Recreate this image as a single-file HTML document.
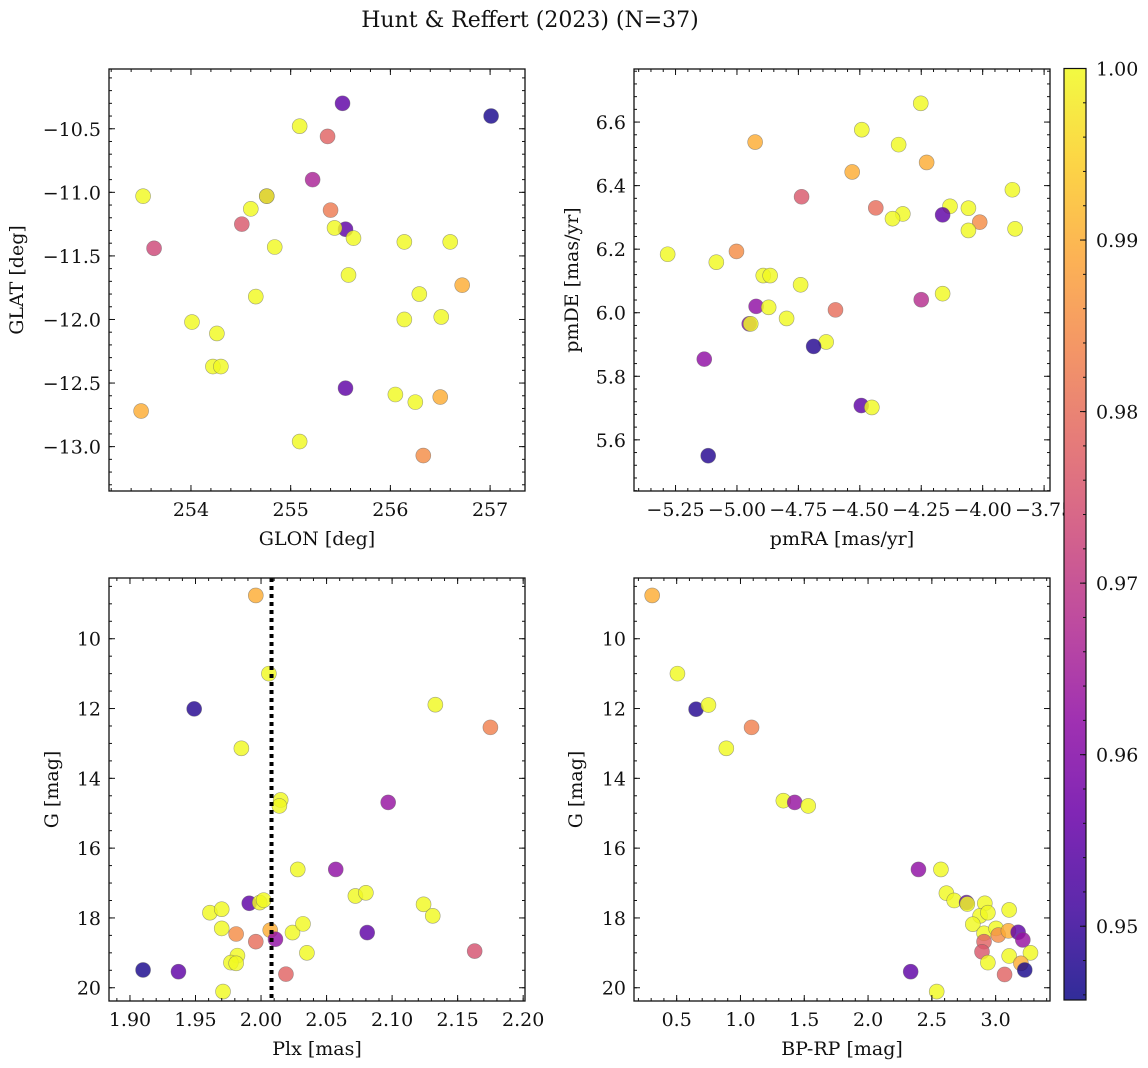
<!DOCTYPE html>
<html><head><meta charset="utf-8">
<style>
html,body{margin:0;padding:0;background:#fff;}
svg{display:block;font-family:"DejaVu Serif","Liberation Serif",serif;}
</style></head>
<body>
<svg id="fig" width="1148" height="1068" viewBox="0 0 1148 1068" xmlns="http://www.w3.org/2000/svg">
<text x="530" y="27" font-size="22" text-anchor="middle" fill="#111">Hunt &amp; Reffert (2023) (N=37)</text>
</svg>
<script>
// ---- data: panel 1 (GLON vs GLAT)
const glon = [255.52,257.01,255.09,255.37,255.22,253.52,254.76,254.76,254.60,255.40,254.51,255.55,255.44,255.63,253.63,254.84,256.14,256.60,255.58,256.72,256.29,254.65,254.01,256.14,256.51,254.26,254.22,254.30,255.55,256.05,256.25,256.50,253.50,255.09,256.33];
const glat = [-10.30,-10.40,-10.48,-10.56,-10.90,-11.03,-11.03,-11.03,-11.13,-11.14,-11.25,-11.29,-11.28,-11.36,-11.44,-11.43,-11.39,-11.39,-11.65,-11.73,-11.80,-11.82,-12.02,-12.00,-11.98,-12.11,-12.37,-12.37,-12.54,-12.59,-12.65,-12.61,-12.72,-12.96,-13.07];
const prob1 = [0.955,0.947,1.0,0.978,0.966,1.0,0.96,1.0,1.0,0.982,0.976,0.955,1.0,1.0,0.973,1.0,1.0,1.0,1.0,0.99,1.0,1.0,1.0,1.0,1.0,1.0,1.0,1.0,0.955,1.0,1.0,0.99,0.99,1.0,0.985];
// ---- panel 2 (pmRA vs pmDE)
const pmra = [-4.252,-4.492,-4.926,-4.342,-4.228,-4.531,-3.879,-4.737,-4.435,-4.133,-4.058,-4.325,-4.367,-4.163,-4.012,-4.058,-3.868,-5.282,-5.002,-5.084,-4.893,-4.865,-4.741,-4.163,-4.250,-4.922,-4.871,-4.599,-4.798,-4.950,-4.944,-4.637,-4.688,-5.133,-4.494,-4.451,-5.117];
const pmde = [6.659,6.576,6.537,6.529,6.473,6.443,6.387,6.365,6.330,6.335,6.329,6.311,6.296,6.308,6.285,6.259,6.264,6.184,6.193,6.159,6.117,6.117,6.088,6.060,6.041,6.020,6.017,6.009,5.982,5.965,5.965,5.908,5.894,5.854,5.708,5.702,5.550];
const prob2 = [1.0,1.0,0.99,1.0,0.99,0.99,1.0,0.976,0.98,1.0,1.0,1.0,1.0,0.955,0.985,1.0,1.0,1.0,0.985,1.0,1.0,1.0,1.0,1.0,0.968,0.962,1.0,0.98,1.0,0.96,1.0,1.0,0.948,0.962,0.955,1.0,0.948];
// ---- panel 3 (Plx vs G)
const plx = [1.996,2.006,1.949,2.133,2.175,1.985,2.015,2.014,2.097,2.028,2.057,2.072,2.080,2.124,2.131,1.991,1.999,2.002,1.961,1.970,1.970,1.981,2.007,1.996,2.011,2.024,2.032,2.081,2.035,1.982,1.977,1.981,2.163,1.910,1.937,2.019,1.971];
const gmag3 = [8.76,11.00,12.01,11.89,12.54,13.14,14.62,14.79,14.69,16.61,16.61,17.37,17.28,17.61,17.94,17.58,17.56,17.49,17.85,17.75,18.30,18.46,18.35,18.68,18.61,18.42,18.17,18.42,19.00,19.08,19.28,19.30,18.95,19.49,19.54,19.61,20.11];
const prob3 = [0.99,1.0,0.948,1.0,0.983,1.0,1.0,1.0,0.963,1.0,0.962,1.0,1.0,1.0,1.0,0.955,1.0,1.0,1.0,1.0,1.0,0.985,0.99,0.98,0.962,1.0,1.0,0.955,1.0,1.0,1.0,1.0,0.975,0.947,0.955,0.978,1.0];
const plxLine = [2.008];
// ---- panel 4 (BP-RP vs G)
const bprp = [0.308,0.506,0.652,0.749,1.087,0.889,1.336,1.425,1.531,2.395,2.571,2.614,2.675,2.772,2.778,2.915,3.106,2.878,2.939,2.821,2.909,3.003,3.021,3.100,3.176,3.213,2.909,2.893,3.106,3.273,2.939,3.198,3.228,2.334,3.070,2.538];
const gmag4 = [8.76,11.00,12.02,11.90,12.54,13.14,14.64,14.69,14.79,16.61,16.61,17.29,17.50,17.56,17.60,17.58,17.77,17.94,17.85,18.18,18.44,18.30,18.49,18.37,18.41,18.63,18.68,18.97,19.09,19.00,19.28,19.30,19.49,19.54,19.62,20.11];
const prob4 = [0.99,1.0,0.948,1.0,0.983,1.0,1.0,0.963,1.0,0.962,1.0,1.0,1.0,0.955,1.0,1.0,1.0,1.0,1.0,1.0,1.0,1.0,0.985,0.99,0.955,0.963,0.978,0.976,1.0,1.0,1.0,0.99,0.947,0.955,0.978,1.0];
// ---- colorbar ticks
const cbTicks = [0.95,0.96,0.97,0.98,0.99,1.00];
const cbMin = 0.9457, cbMax = 1.0;

const FS = 19;
const NS = "http://www.w3.org/2000/svg";
const svg = document.getElementById('fig');
function mk(tag, attrs, parent){
  const e = document.createElementNS(NS, tag);
  for (const k in attrs) e.setAttribute(k, attrs[k]);
  (parent||svg).appendChild(e);
  return e;
}
const plasma = [[13,8,135],[65,4,157],[106,0,168],[143,13,164],[177,42,144],[204,71,120],[225,100,98],[242,132,75],[252,166,54],[252,206,37],[240,249,33]];
function cmap(v){
  let t = (v - cbMin)/(cbMax - cbMin); t = Math.max(0, Math.min(1, t));
  const p = t*10, i = Math.min(9, Math.floor(p)), f = p - i;
  const a = plasma[i], b = plasma[i+1];
  return `rgb(${Math.round(a[0]+(b[0]-a[0])*f)},${Math.round(a[1]+(b[1]-a[1])*f)},${Math.round(a[2]+(b[2]-a[2])*f)})`;
}
function fmt(v, d){ const s = v.toFixed(d); return s.replace('-', '\u2212'); }

function panel(cfg){
  const g = mk('g', {});
  
  
  const {L,R,T,B} = cfg;
  const sx = v => L + (v - cfg.x0)/(cfg.x1 - cfg.x0)*(R-L);
  const sy = v => T + (v - cfg.y0)/(cfg.y1 - cfg.y0)*(B-T);
  const pts = mk('g', {}, g);
  
  
  for (let i = 0; i < cfg.xs.length; i++){
    const c = mk('circle', {cx: sx(cfg.xs[i]), cy: sy(cfg.ys[i]), r: 7.5, fill: cmap(cfg.cs[i]), 'fill-opacity': 0.82, stroke: '#666', 'stroke-width': 0.6, 'stroke-opacity': 0.6}, pts);
    
    
  }
  if (cfg.vline){
    const ln = mk('line', {x1: sx(cfg.vline[0]), x2: sx(cfg.vline[0]), y1: T, y2: B, stroke: '#000', 'stroke-width': 4, 'stroke-dasharray': '4 4'}, g);
    
    
  }
  const fr = mk('rect', {x: L, y: T, width: R-L, height: B-T, fill: 'none', stroke: '#111', 'stroke-width': 1.3}, g);
  
  
  const tk = mk('g', {stroke: '#111', 'stroke-width': 1}, g);
  
  
  const eps = 1e-9;
  const xmin = Math.min(cfg.x0,cfg.x1), xmax = Math.max(cfg.x0,cfg.x1);
  const ymin = Math.min(cfg.y0,cfg.y1), ymax = Math.max(cfg.y0,cfg.y1);
  for (let v = Math.ceil(xmin/cfg.xm - eps)*cfg.xm; v <= xmax+eps; v += cfg.xm){
    const x = sx(v);
    mk('line', {x1:x, x2:x, y1:B, y2:B-3}, tk); mk('line', {x1:x, x2:x, y1:T, y2:T+3}, tk);
  }
  for (let v = Math.ceil(ymin/cfg.ym - eps)*cfg.ym; v <= ymax+eps; v += cfg.ym){
    const y = sy(v);
    mk('line', {x1:L, x2:L+3, y1:y, y2:y}, tk); mk('line', {x1:R, x2:R-3, y1:y, y2:y}, tk);
  }
  const lab = mk('g', {'font-size': FS, fill: '#111'}, g);
  
  
  for (const v of cfg.xt){
    const x = sx(v);
    mk('line', {x1:x, x2:x, y1:B, y2:B-6}, tk); mk('line', {x1:x, x2:x, y1:T, y2:T+6}, tk);
    const t = mk('text', {x: x, y: B+25, 'text-anchor': 'middle'}, lab);
    t.textContent = fmt(v, cfg.xd);
  }
  for (const v of cfg.yt){
    const y = sy(v);
    mk('line', {x1:L, x2:L+6, y1:y, y2:y}, tk); mk('line', {x1:R, x2:R-6, y1:y, y2:y}, tk);
    const t = mk('text', {x: L-8, y: y+7, 'text-anchor': 'end'}, lab);
    t.textContent = fmt(v, cfg.yd);
  }
  const xl = mk('text', {x: (L+R)/2, y: B+54, 'text-anchor': 'middle', 'font-size': FS, fill: '#111'}, g);
  
  
  xl.textContent = cfg.xlabel;
  const yl = mk('text', {x: 0, y: 0, 'text-anchor': 'middle', 'font-size': FS, fill: '#111', transform: `translate(${cfg.ylx},${(T+B)/2}) rotate(-90)`}, g);
  
  
  yl.textContent = cfg.ylabel;
}

panel({name:'glon-glat-panel', L:109, R:525, T:69, B:491, x0:253.178, x1:257.35, y0:-10.03, y1:-13.349,
  xs:glon, ys:glat, cs:prob1, xm:0.2, ym:0.1, xt:[254,255,256,257], yt:[-10.5,-11,-11.5,-12,-12.5,-13], xd:0, yd:1,
  xlabel:'GLON [deg]', ylabel:'GLAT [deg]', ylx:23});
panel({name:'pm-panel', L:634, R:1050, T:69, B:491, x0:-5.419, x1:-3.726, y0:6.767, y1:5.439,
  xs:pmra, ys:pmde, cs:prob2, xm:0.05, ym:0.04, xt:[-5.25,-5.0,-4.75,-4.5,-4.25,-4.0,-3.75], yt:[5.6,5.8,6.0,6.2,6.4,6.6], xd:2, yd:1,
  xlabel:'pmRA [mas/yr]', ylabel:'pmDE [mas/yr]', ylx:578});
panel({name:'plx-g-panel', L:109, R:525, T:578, B:1001, x0:1.884, x1:2.2014, y0:8.26, y1:20.38,
  xs:plx, ys:gmag3, cs:prob3, xm:0.01, ym:0.5, xt:[1.9,1.95,2.0,2.05,2.1,2.15,2.2], yt:[10,12,14,16,18,20], xd:2, yd:0,
  xlabel:'Plx [mas]', ylabel:'G [mag]', ylx:58, vline:plxLine});
panel({name:'cmd-panel', L:634, R:1050, T:578, B:1001, x0:0.1655, x1:3.426, y0:8.26, y1:20.38,
  xs:bprp, ys:gmag4, cs:prob4, xm:0.1, ym:0.5, xt:[0.5,1.0,1.5,2.0,2.5,3.0], yt:[10,12,14,16,18,20], xd:1, yd:0,
  xlabel:'BP-RP [mag]', ylabel:'G [mag]', ylx:582});

(function(){
  const L=1064, R=1086, T=68.5, B=1000;
  const g = mk('g', {});
  
  
  const defs = mk('defs', {}, g);
  const lg = mk('linearGradient', {id:'cbg', x1:0, y1:1, x2:0, y2:0}, defs);
  for (let i = 0; i <= 20; i++){
    mk('stop', {offset: i/20, 'stop-color': cmap(cbMin + (cbMax-cbMin)*i/20)}, lg);
  }
  const bg = mk('rect', {x:L, y:T, width:R-L, height:B-T, fill:'#fff'}, g);
  const bar = mk('rect', {x:L, y:T, width:R-L, height:B-T, fill:'url(#cbg)', 'fill-opacity':0.85, stroke:'#111', 'stroke-width':1.2}, g);
  
  
  const sy = v => B - (v - cbMin)/(cbMax - cbMin)*(B-T);
  for (let v = 0.946; v <= 1.0001; v += 0.002){
    const y = sy(v);
    mk('line', {x1:R, x2:R-3, y1:y, y2:y, stroke:'#111', 'stroke-width':1}, g);
  }
  for (const v of cbTicks){
    const y = sy(v);
    mk('line', {x1:R, x2:R-6, y1:y, y2:y, stroke:'#111', 'stroke-width':1}, g);
    const t = mk('text', {x:R+10, y:y+7, 'font-size':FS, fill:'#111'}, g);
    
    
    t.textContent = v.toFixed(2);
  }
})();
</script>
</body></html>
